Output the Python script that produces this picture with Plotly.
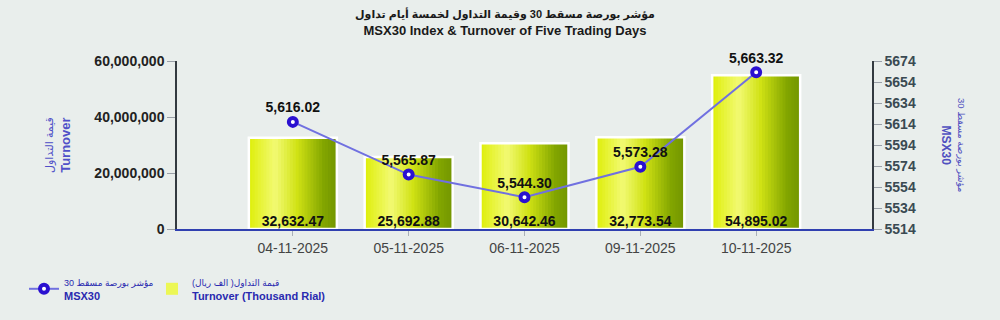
import plotly.graph_objects as go

# ---- data ----
dates = ["04-11-2025", "05-11-2025", "06-11-2025", "09-11-2025", "10-11-2025"]
turnover_thousand = [32632.47, 25692.88, 30642.46, 32773.54, 54895.02]
msx30 = [5616.02, 5565.87, 5544.30, 5573.28, 5663.32]
left_ticks = [0, 20000000, 40000000, 60000000]
right_ticks = [5514, 5534, 5554, 5574, 5594, 5614, 5634, 5654, 5674]

title_ar = "مؤشر بورصة مسقط 30 وقيمة التداول لخمسة أيام تداول"
title_en = "MSX30 Index & Turnover of Five Trading Days"
left_title_ar = "قيمة التداول"
left_title_en = "Turnover"
right_title_ar = "مؤشر بورصة مسقط 30"
right_title_en = "MSX30"
legend_line_ar = "مؤشر بورصة مسقط 30"
legend_line_en = "MSX30"
legend_bar_ar = "قيمة التداول( الف ريال)"
legend_bar_en = "Turnover (Thousand Rial)"

FONT = "Liberation Sans, Arial, DejaVu Sans, sans-serif"


def ar(s, px, bold=False):
    inner = f"<b>{s}</b>" if bold else s
    return f'<span style="font-size:{px}px">{inner}</span>'


turnover = [v * 1000 for v in turnover_thousand]
xi = list(range(len(dates)))

# gradient stops across the bar width
stops = [(0.0, (222, 238, 8)), (0.3, (242, 250, 115)), (0.55, (208, 226, 20)),
         (0.85, (130, 165, 0)), (1.0, (115, 150, 0))]


def grad(t):
    for (a, ca), (b, cb) in zip(stops[:-1], stops[1:]):
        if a <= t <= b:
            f = (t - a) / (b - a)
            c = [round(ca[k] + (cb[k] - ca[k]) * f) for k in range(3)]
            return f"rgb({c[0]},{c[1]},{c[2]})"
    return "rgb(115,150,0)"


fig = go.Figure()
W = 0.76
N = 30
for i in range(N):
    t = (i + 0.5) / N
    fig.add_trace(go.Bar(
        x=xi, y=turnover, width=W / N * (1.6 if i < N - 1 else 1.0),
        offset=-W / 2 + i * W / N,
        marker=dict(color=grad(t), line=dict(width=0)),
        name=f"{ar(legend_bar_ar, 9)}<br><b>{legend_bar_en}</b>",
        showlegend=(i == 6), legend="legend2",
        hoverinfo="skip"))

# white outline
fig.add_trace(go.Bar(
    x=xi, y=turnover, width=W, offset=-W / 2,
    marker=dict(color="rgba(0,0,0,0)", line=dict(color="white", width=2.5)),
    showlegend=False, hoverinfo="skip"))

# bar value labels at base
fig.add_trace(go.Scatter(
    x=xi, y=[0] * len(xi), mode="text",
    text=[f"<b>{v:,.2f}</b>" for v in turnover_thousand], textposition="top center",
    textfont=dict(family=FONT, size=14, color="#111111"),
    showlegend=False, hoverinfo="skip", cliponaxis=False))

# index line
fig.add_trace(go.Scatter(
    x=xi, y=msx30, yaxis="y2", mode="lines+markers+text",
    line=dict(color="#7070e0", width=2),
    marker=dict(symbol="circle", size=8, color="white",
                line=dict(color="#2a10d0", width=4)),
    text=[f"<b>{v:,.2f}</b>" for v in msx30], textposition="top center",
    textfont=dict(family=FONT, size=14, color="#111111"),
    name=f"{ar(legend_line_ar, 9)}<br><b>{legend_line_en}</b>",
    legend="legend", cliponaxis=False))

legend_common = dict(
    orientation="h", xref="container", yref="container",
    xanchor="left", y=1 - 268 / 320, yanchor="top",
    bgcolor="rgba(0,0,0,0)",
    font=dict(family=FONT, size=11, color="#2a2ab0"))

fig.update_layout(
    width=1000, height=320,
    margin=dict(l=177, r=128, t=61, b=91),
    paper_bgcolor="#e9eeec", plot_bgcolor="rgba(0,0,0,0)",
    barmode="overlay",
    font=dict(family=FONT),
    xaxis=dict(
        range=[-1, len(dates)], tickvals=xi, ticktext=dates,
        showgrid=False, zeroline=False, automargin=False,
        showline=True, linecolor="#3040b0", linewidth=2,
        ticks="outside", ticklen=5, tickcolor="#aab0b8",
        tickfont=dict(family=FONT, size=14, color="#444444")),
    yaxis=dict(
        range=[0, 60000000], tickvals=left_ticks,
        ticktext=[f"<b>{v:,}</b>" for v in left_ticks],
        showgrid=False, zeroline=False, automargin=False,
        showline=True, linecolor="#333a40", linewidth=1.5,
        ticks="outside", ticklen=8, tickcolor="#9aa0a8",
        tickfont=dict(family=FONT, size=14, color="#222222")),
    yaxis2=dict(
        overlaying="y", side="right", range=[5514, 5674],
        tickvals=right_ticks, ticktext=[f"<b>{v}</b>" for v in right_ticks],
        showgrid=False, zeroline=False, automargin=False,
        showline=True, linecolor="#333a40", linewidth=1.5,
        ticks="outside", ticklen=8, tickcolor="#9aa0a8",
        tickfont=dict(family=FONT, size=14, color="#3a4a52")),
    legend=dict(legend_common, x=0.024),
    legend2=dict(legend_common, x=0.152),
    showlegend=True,
    annotations=[
        dict(text=f"{ar(title_ar, 11, True)}<br><b>{title_en}</b>", xref="paper", yref="paper",
             x=0.4716, y=1, yshift=56, xanchor="center", yanchor="top", showarrow=False,
             font=dict(family=FONT, size=13, color="#1a1a1a")),
        dict(text=f"{ar(left_title_ar, 11)}<br><b>{left_title_en}</b>", xref="paper", yref="paper",
             x=0, xshift=-119, y=0.5, xanchor="center", yanchor="middle",
             textangle=-90, showarrow=False,
             font=dict(family=FONT, size=13, color="#5050c8")),
        dict(text=f"{ar(right_title_ar, 9.5)}<br><b>{right_title_en}</b>", xref="paper", yref="paper",
             x=1, xshift=81, y=0.5, xanchor="center", yanchor="middle",
             textangle=90, showarrow=False,
             font=dict(family=FONT, size=12, color="#5050c0")),
    ],
)

fig.write_html("out.html")
